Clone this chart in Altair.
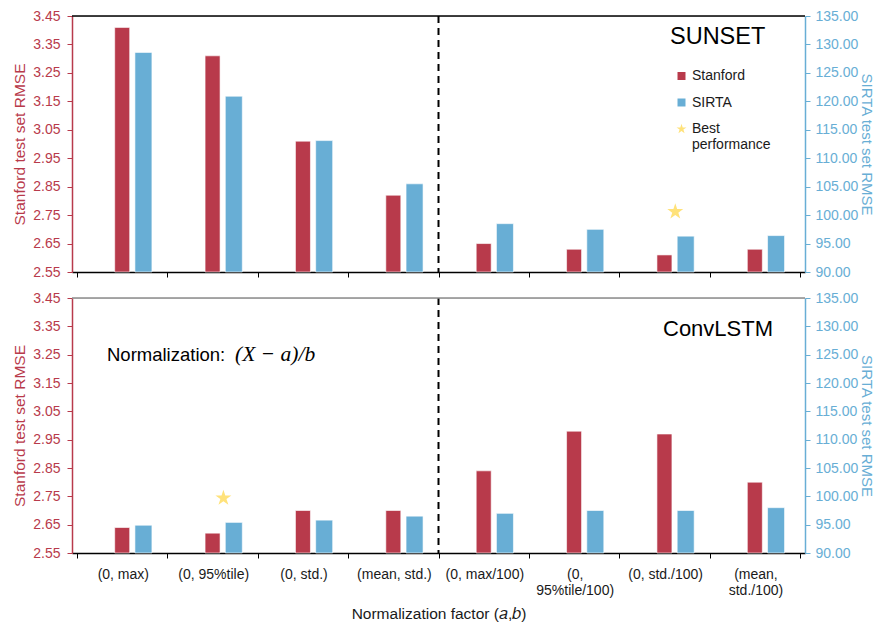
import json
import altair as alt
import pandas as pd

# ---------------- data ----------------
categories = ["(0, max)", "(0, 95%tile)", "(0, std.)", "(mean, std.)",
              "(0, max/100)", "(0,\n95%tile/100)", "(0, std./100)", "(mean,\nstd./100)"]
sunset_stanford = [3.41, 3.31, 3.01, 2.82, 2.65, 2.63, 2.61, 2.63]
sunset_sirta = [128.6, 120.9, 113.1, 105.5, 98.5, 97.5, 96.3, 96.4]
conv_stanford = [2.64, 2.62, 2.70, 2.70, 2.84, 2.98, 2.97, 2.80]
conv_sirta = [94.9, 95.4, 95.8, 96.5, 97.0, 97.5, 97.5, 98.0]
best_sunset = 6
best_conv = 1
series_names = ["Stanford", "SIRTA", "Best performance"]
stanford_ticks = [2.55, 2.65, 2.75, 2.85, 2.95, 3.05, 3.15, 3.25, 3.35, 3.45]
sirta_ticks = [90, 95, 100, 105, 110, 115, 120, 125, 130, 135]
group_boundary = [4]
x_title = "Normalization factor (\U0001D44E,\U0001D44F)"

# ---------------- style ----------------
RED = "#B83A4B"
BLUE = "#68AED5"
GOLD = "#FFE27A"
FONT = "Liberation Sans"
STAR = ("M0,-1.31L0.294,-0.405L1.246,-0.405L0.476,0.155L0.77,1.06L0,0.5"
        "L-0.77,1.06L-0.476,0.155L-1.246,-0.405L-0.294,-0.405Z")
W, H1, H2 = 733, 256, 255

labels_js = json.dumps([c.split("\n") for c in categories])

x_scale = alt.Scale(domain=[0, len(categories)], nice=False, zero=False)
y_stan = alt.Scale(domain=[stanford_ticks[0], stanford_ticks[-1]], nice=False, zero=False)
y_sirta = alt.Scale(domain=[sirta_ticks[0], sirta_ticks[-1]], nice=False, zero=False)
color_scale = alt.Scale(domain=series_names, range=[RED, BLUE, GOLD])
shape_scale = alt.Scale(domain=series_names, range=["square", "square", STAR])

left_axis = alt.Axis(values=stanford_ticks, format=".2f", title="Stanford test set RMSE",
                     orient="left", grid=False, domainColor=RED, tickColor=RED,
                     labelColor=RED, titleColor=RED, labelFontSize=14, titleFontSize=15.5,
                     titleFontWeight="normal", tickSize=5, labelPadding=7, titlePadding=5,
                     domainWidth=1.5, labelFont=FONT, titleFont=FONT)
right_axis = alt.Axis(values=sirta_ticks, format=".2f", title="SIRTA test set RMSE",
                      orient="right", grid=False, domainColor=BLUE, tickColor=BLUE,
                      labelColor=BLUE, titleColor=BLUE, labelFontSize=14, titleFontSize=15,
                      titleFontWeight="normal", tickSize=5, labelPadding=5, titlePadding=1,
                      domainWidth=1.5, labelFont=FONT, titleFont=FONT)


def x_axis(show_labels):
    if show_labels:
        return alt.Axis(values=list(range(len(categories) + 1)),
                        labelExpr=f"{labels_js}[datum.value] || ''",
                        labelOffset=W / len(categories) / 2, labelFlush=False,
                        labelOverlap=False, labelLineHeight=16, tickSize=5, labelPadding=9,
                        domainColor="black", tickColor="black", domainWidth=1.5,
                        labelFontSize=14, labelColor="#1a1a1a", labelFont=FONT,
                        title=x_title, titleFontSize=15.5,
                        titleFontWeight="normal", titleFont=FONT, titleColor="#1a1a1a",
                        titlePadding=9, grid=False)
    return alt.Axis(values=list(range(len(categories) + 1)), labels=False, title=None,
                    tickSize=5, domainColor="black", tickColor="black", domainWidth=1.5,
                    grid=False)


def make_legend(show):
    if not show:
        return None
    return alt.Legend(orient="none", legendX=602.5, legendY=53, title=None,
                      labelFontSize=14, labelFont=FONT, labelColor="#1a1a1a",
                      symbolSize=64, rowPadding=12.5, labelOffset=3.5, padding=0,
                      symbolStrokeWidth=0, symbolOpacity=1,
                      labelExpr="datum.label == 'Best performance' ? ['Best', 'performance'] : datum.label")


def panel(stan, sirta, best, name, name_x, name_y, name_size, height, show_x, top_color,
          show_legend, extra_text=False):
    df = pd.DataFrame({"idx": list(range(len(categories))), "stanford": stan,
                       "sirta": sirta, "best": [i == best for i in range(len(categories))]})
    base = alt.Chart(df)
    xa = x_axis(show_x)
    xtitle = x_title if show_x else None
    leg = make_legend(show_legend)
    color_kw = dict(scale=color_scale, legend=leg)

    red = base.transform_calculate(xp="datum.idx + 0.5", series="'Stanford'").mark_bar(
        size=15, stroke="white", strokeOpacity=0.6, strokeWidth=1).encode(
        x=alt.X("xp:Q", scale=x_scale, axis=xa, title=xtitle),
        y=alt.Y("stanford:Q", scale=y_stan, axis=left_axis),
        y2=alt.datum(stanford_ticks[0]),
        color=alt.Color("series:N", **color_kw),
    )
    divider = alt.Chart(pd.DataFrame({"b": group_boundary})).mark_rule(
        color="black", strokeWidth=2, strokeDash=[7, 5]).encode(
        x=alt.X("b:Q", scale=x_scale, axis=xa, title=xtitle))
    top_border = alt.Chart(pd.DataFrame({"b": group_boundary})).mark_rule(
        color=top_color, strokeWidth=1.5).encode(y=alt.value(0))
    label = alt.Chart(pd.DataFrame({"t": [name]})).mark_text(
        align="left", baseline="alphabetic", fontSize=name_size, font=FONT,
        color="black").encode(text="t:N", x=alt.value(name_x), y=alt.value(name_y))
    left_layers = [red, divider, top_border, label]
    if extra_text:
        t1 = alt.Chart(pd.DataFrame({"t": ["Normalization:"]})).mark_text(
            align="left", baseline="alphabetic", fontSize=18.5, font=FONT, color="black").encode(
            text="t:N", x=alt.value(35), y=alt.value(63))
        t2 = alt.Chart(pd.DataFrame({"t": ["(X \u2212 a)/b"]})).mark_text(
            align="left", baseline="alphabetic", fontSize=21.5, font="Liberation Serif",
            fontStyle="italic", color="black").encode(
            text="t:N", x=alt.value(163), y=alt.value(63))
        left_layers += [t1, t2]
    left = alt.layer(*left_layers)

    blue = base.transform_calculate(xp="datum.idx + 0.735", series="'SIRTA'").mark_bar(
        size=17, stroke="white", strokeOpacity=0.6, strokeWidth=1).encode(
        x=alt.X("xp:Q", scale=x_scale, axis=xa, title=xtitle),
        y=alt.Y("sirta:Q", scale=y_sirta, axis=right_axis),
        y2=alt.datum(sirta_ticks[0]),
        color=alt.Color("series:N", **color_kw),
    )
    stars = base.transform_filter("datum.best").transform_calculate(
        xs="datum.idx + 0.62", ys="datum.sirta + 4.3", series="'Best performance'").mark_point(
        filled=True, size=164, opacity=1).encode(
        x=alt.X("xs:Q", scale=x_scale, axis=xa, title=xtitle),
        y=alt.Y("ys:Q", scale=y_sirta, axis=right_axis),
        color=alt.Color("series:N", **color_kw),
        shape=alt.Shape("series:N", scale=shape_scale, legend=leg),
    )
    right = alt.layer(blue, stars)
    return alt.layer(left, right).resolve_scale(y="independent").properties(
        width=W, height=height)


top = panel(sunset_stanford, sunset_sirta, best_sunset, "SUNSET", 598, 28, 23.5, H1, False,
            "black", True)
bottom = panel(conv_stanford, conv_sirta, best_conv, "ConvLSTM", 591, 38, 22, H2, True,
               "#8c8c8c", False, extra_text=True)

chart = alt.vconcat(top, bottom, spacing=26, bounds="flush").resolve_scale(
    color="independent", shape="independent").resolve_legend(
    color="independent", shape="independent").properties(
    padding={"left": 4, "top": 0, "right": 0, "bottom": 0}).configure_view(
    stroke=None).configure(font=FONT)

chart.save("out.html", embed_options={"renderer": "svg", "actions": False})
